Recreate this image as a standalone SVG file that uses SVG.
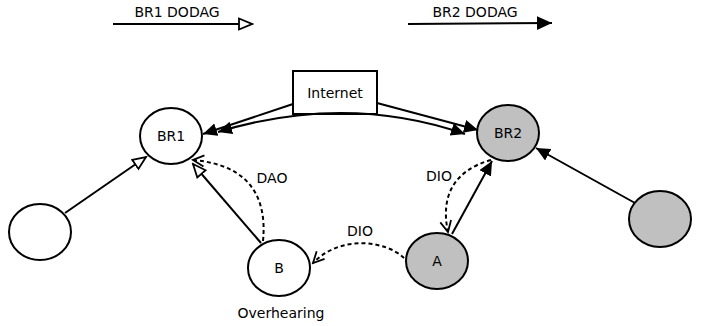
<svg xmlns="http://www.w3.org/2000/svg" width="705" height="326" viewBox="0 0 705 326">
<style>
text{font-family:"DejaVu Sans",sans-serif;font-size:14px;fill:#000;text-anchor:middle}
.node{stroke:#000;stroke-width:2}
.w{fill:#fff}
.g{fill:#c0c0c0}
.c{fill:none;stroke:#000;stroke-width:2}
.d{fill:none;stroke:#000;stroke-width:2;stroke-dasharray:4,3}
</style>
<defs>
<marker id="fill" markerUnits="userSpaceOnUse" markerWidth="16" markerHeight="14" refX="14" refY="6.5" orient="auto-start-reverse" viewBox="0 0 16 14">
<path d="M0,0 L14,6.5 L0,13 z" fill="#000"/>
</marker>
<marker id="fillBig" markerUnits="userSpaceOnUse" markerWidth="16" markerHeight="16" refX="15" refY="8" orient="auto" viewBox="0 0 16 16">
<path d="M0,1 L15,8 L0,15 z" fill="#000"/>
</marker>
<marker id="open" markerUnits="userSpaceOnUse" markerWidth="16" markerHeight="14" refX="14" refY="7" orient="auto" viewBox="0 0 16 14">
<path d="M1,1.5 L14,7 L1,12.5 z" fill="#fff" stroke="#000" stroke-width="1.8"/>
</marker>
<marker id="vee" markerUnits="userSpaceOnUse" markerWidth="14" markerHeight="14" refX="12" refY="7" orient="auto" viewBox="0 0 14 14">
<path d="M1,1.5 L12,7 L1,12.5" fill="none" stroke="#000" stroke-width="1.8"/>
</marker>
</defs>
<g id="legend">
<path class="c" d="M113,24 L252,24" marker-end="url(#open)"/>
<text x="177" y="17">BR1 DODAG</text>
<path class="c" d="M408,24 L552,23" marker-end="url(#fillBig)"/>
<text x="475" y="17">BR2 DODAG</text>
</g>
<g id="internet">
<rect class="node w" x="293" y="71" width="84" height="43"/>
<text x="335" y="98">Internet</text>
</g>
<g id="br1">
<ellipse class="node w" cx="171" cy="136" rx="31" ry="28"/>
<text x="171" y="141">BR1</text>
</g>
<g id="br2">
<ellipse class="node g" cx="508" cy="133" rx="31" ry="28"/>
<text x="508" y="138">BR2</text>
</g>
<g id="leftNode">
<ellipse class="node w" cx="40" cy="232" rx="31" ry="28"/>
</g>
<g id="nodeB">
<ellipse class="node w" cx="279" cy="268" rx="31" ry="28"/>
<text x="279" y="273">B</text>
<text x="281" y="318">Overhearing</text>
</g>
<g id="nodeA">
<ellipse class="node g" cx="437" cy="261" rx="31" ry="28"/>
<text x="437" y="266">A</text>
</g>
<g id="rightNode">
<ellipse class="node g" cx="660" cy="219" rx="31" ry="28"/>
</g>
<g id="connectors">
<path class="c" d="M293,104 L203,134" marker-end="url(#fill)"/>
<path class="c" d="M377,103 L478,130" marker-end="url(#fill)"/>
<path class="c" d="M218,132 Q346,93 465,134" marker-start="url(#fill)" marker-end="url(#fill)"/>
<path class="c" d="M65,213 L146,157" marker-end="url(#open)"/>
<path class="c" d="M261,243 L193,164" marker-end="url(#open)"/>
<path class="d" d="M263,241 C267,200 252,165 193,160" marker-end="url(#vee)"/>
<path class="c" d="M452,234 L492,161" marker-end="url(#fill)"/>
<path class="c" d="M635,203 L536,148" marker-end="url(#fill)"/>
<path class="d" d="M491,160 C455,170 440,195 448,232" marker-end="url(#vee)"/>
<path class="d" d="M404,258 C385,240 340,235 313,263" marker-end="url(#vee)"/>
<text x="272" y="183">DAO</text>
<text x="439" y="181">DIO</text>
<text x="360" y="236">DIO</text>
</g>
</svg>
